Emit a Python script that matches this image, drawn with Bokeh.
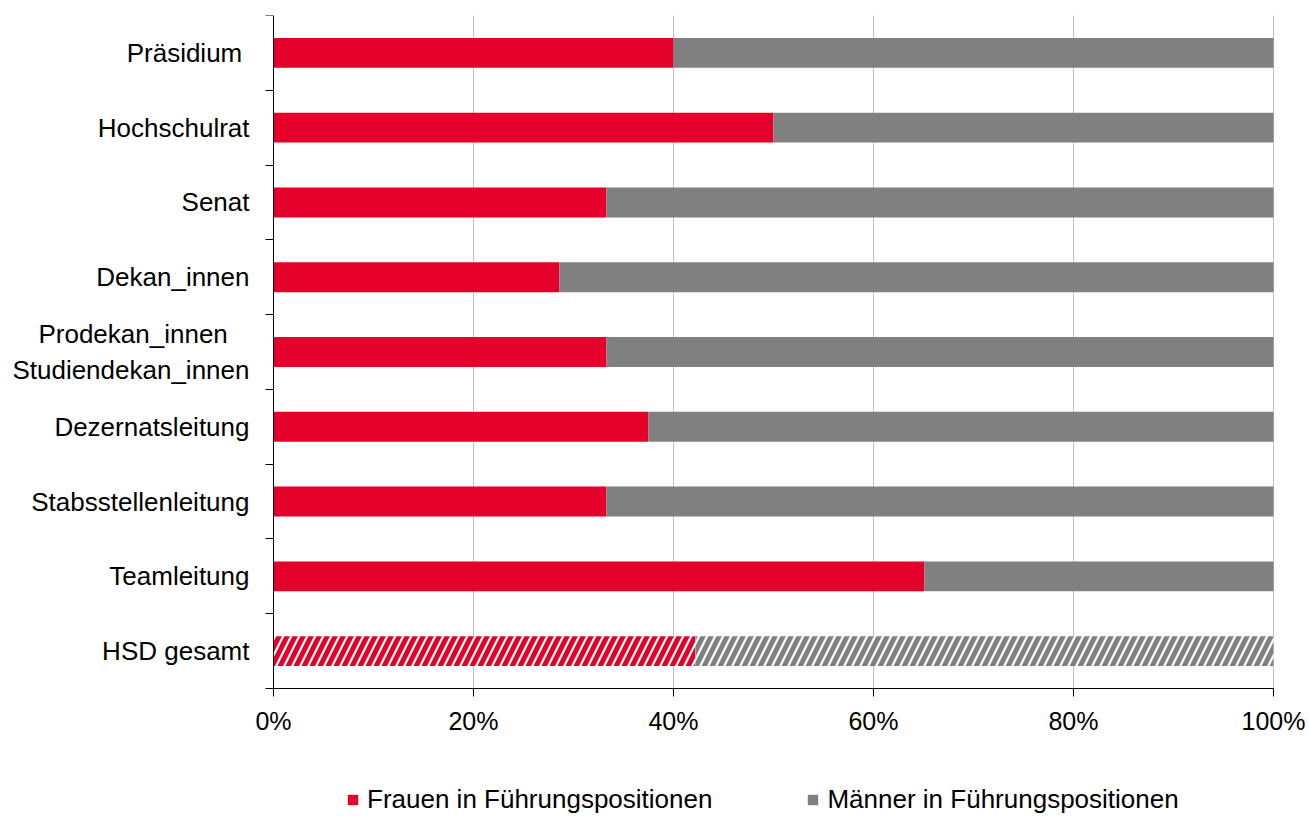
from bokeh.plotting import figure
from bokeh.models import ColumnDataSource, FixedTicker, PrintfTickFormatter, Legend, LegendItem, Range1d
from bokeh.embed import file_html
from bokeh.resources import INLINE

categories = ["Präsidium ", "Hochschulrat", "Senat", "Dekan_innen",
              "Prodekan_innen   \nStudiendekan_innen", "Dezernatsleitung",
              "Stabsstellenleitung", "Teamleitung", "HSD gesamt"]
frauen = [40.0, 50.0, 33.3, 28.6, 33.3, 37.5, 33.3, 65.1, 42.2]
maenner = [60.0, 50.0, 66.7, 71.4, 66.7, 62.5, 66.7, 34.9, 57.8]
x_ticks = [0, 20, 40, 60, 80, 100]
series_names = ["Frauen in Führungspositionen", "Männer in Führungspositionen"]

RED = "#E4002B"
GRAY = "#808080"
FONT = "Liberation Sans"

n = len(categories)
ypos = [n - i - 0.5 for i in range(n)]

# layout: plot area 1000 px wide starting at 273 px; 9 bands over 673 px.
# The frame covers the whole canvas so that axis labels and legend are never clipped.
FRAME_W = 1305
PX_PER_PCT = 1000 / 100
x_low = -273 / PX_PER_PCT
x_high = x_low + FRAME_W / PX_PER_PCT
BAND_PX = 673 / n
FRAME_H = 802
y_low = n - FRAME_H / BAND_PX

main = slice(0, n - 1)
src_main = ColumnDataSource(dict(
    y=ypos[main], f=frauen[main],
    m_left=frauen[main], m_right=[a + b for a, b in zip(frauen[main], maenner[main])]))
src_tot = ColumnDataSource(dict(
    y=ypos[n - 1:], f=frauen[n - 1:],
    m_left=frauen[n - 1:], m_right=[a + b for a, b in zip(frauen[n - 1:], maenner[n - 1:])]))

p = figure(frame_width=FRAME_W, frame_height=FRAME_H, output_backend="svg", toolbar_location=None,
           x_range=Range1d(x_low, x_high), y_range=Range1d(y_low, n),
           min_border_left=0, min_border_right=0, min_border_top=15, min_border_bottom=0)
p.outline_line_color = None

H = 0.4
r_f = p.hbar(y="y", left=0, right="f", height=H, source=src_main, fill_color=RED, line_color=None)
r_m = p.hbar(y="y", left="m_left", right="m_right", height=H, source=src_main, fill_color=GRAY, line_color=None)
p.hbar(y="y", left=0, right="f", height=H, source=src_tot, fill_color="white", line_color=None,
       hatch_pattern="/", hatch_color=RED, hatch_scale=16, hatch_weight=5)
p.hbar(y="y", left="m_left", right="m_right", height=H, source=src_tot, fill_color="white", line_color=None,
       hatch_pattern="/", hatch_color=GRAY, hatch_scale=16, hatch_weight=5)

# x axis
p.xaxis.fixed_location = 0
p.xaxis.bounds = (0, 100)
p.xaxis.ticker = FixedTicker(ticks=x_ticks)
p.xaxis.formatter = PrintfTickFormatter(format="%d%%")
p.xaxis.major_tick_out = 8
p.xaxis.major_tick_in = 0
p.xaxis.minor_tick_out = 0
p.xaxis.minor_tick_in = 0
p.xaxis.major_label_text_font = FONT
p.xaxis.major_label_text_font_size = "25px"
p.xaxis.major_label_text_color = "black"
p.xaxis.major_label_standoff = 10
p.xaxis.axis_line_color = "black"
p.xaxis.major_tick_line_color = "black"

# y axis
p.yaxis.fixed_location = 0
p.yaxis.bounds = (0, n)
p.yaxis.ticker = FixedTicker(ticks=ypos, minor_ticks=list(range(0, n + 1)))
p.yaxis.major_label_overrides = {y: c for y, c in zip(ypos, categories)}
p.yaxis.major_tick_out = 0
p.yaxis.major_tick_in = 0
p.yaxis.minor_tick_out = 8
p.yaxis.minor_tick_in = 0
p.yaxis.minor_tick_line_color = "black"
p.yaxis.axis_line_color = "black"
p.yaxis.major_label_text_font = FONT
p.yaxis.major_label_text_font_size = "26px"
p.yaxis.major_label_text_color = "black"
p.yaxis.major_label_standoff = 16

p.xgrid.grid_line_color = "#c0c0c0"
p.xgrid.ticker = FixedTicker(ticks=x_ticks)
p.xgrid.cross_bounds = (0, n)
p.ygrid.grid_line_color = None

legend = Legend(items=[LegendItem(label=series_names[0], renderers=[r_f]),
                       LegendItem(label=series_names[1], renderers=[r_m])],
                orientation="horizontal", location=(346, 2),
                label_text_font=FONT, label_text_font_size="26px", label_text_color="black",
                label_height=26,
                glyph_width=13, glyph_height=13, label_standoff=8, spacing=94,
                padding=0, margin=0, border_line_color=None, background_fill_alpha=0)
p.add_layout(legend, "center")

open("out.html", "w").write(file_html(p, INLINE))
